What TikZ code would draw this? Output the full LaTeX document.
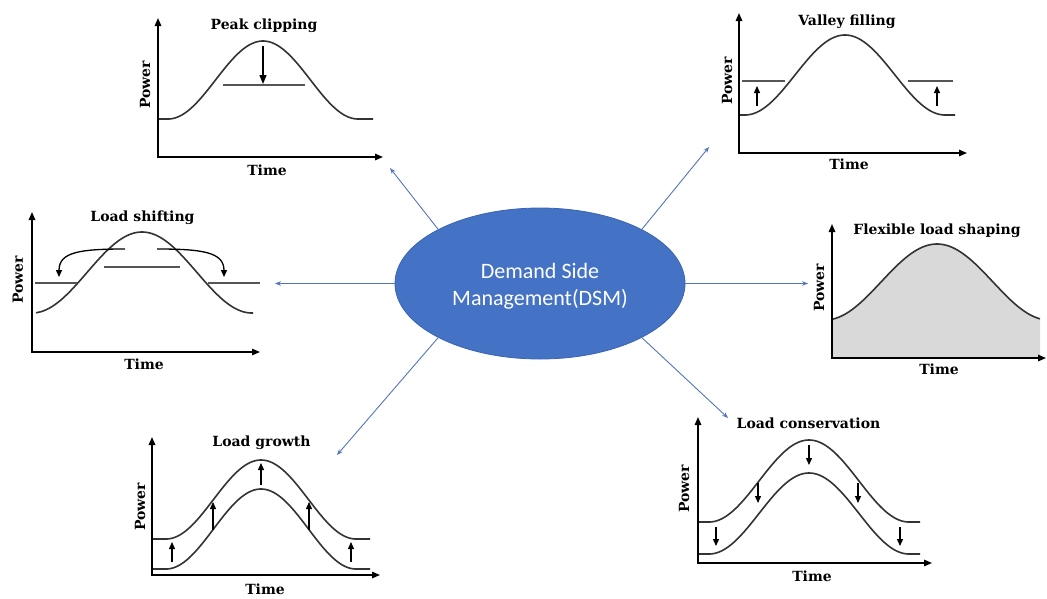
\documentclass[tikz,border=0pt]{standalone}
\usepackage{fontspec}
\setmainfont{DejaVu Serif}
\newfontfamily\carlito{Carlito}
\usetikzlibrary{arrows.meta,shapes.geometric}

\definecolor{dsmblue}{HTML}{4472C4}
\definecolor{dsmedge}{HTML}{3A64B2}
\definecolor{linkblue}{HTML}{5474BA}
\definecolor{curvegrey}{HTML}{333333}
\definecolor{levelgrey}{HTML}{555555}
\definecolor{areagrey}{HTML}{D9D9D9}

% smooth load bump: 1 at the peak xc, falling to 0 at distance w
\pgfmathdeclarefunction{bump}{3}{\pgfmathparse{(1+cos(180*min(1,abs(#1-#2)/#3)))/2}}

\tikzset{
  axes/.style={line width=1.5pt,black,{Triangle[length=8pt,width=6.5pt]}-{Triangle[length=8pt,width=6.5pt]}},
  loadcurve/.style={line width=1.6pt,curvegrey,samples=150},
  level/.style={line width=1.1pt,levelgrey},
  shiftarrow/.style={line width=1.3pt,black,-{Triangle[length=7pt,width=6pt]}},
  link/.style={draw=linkblue,line width=0.9pt,-{Stealth[length=6pt,width=4.5pt]}},
  lbl/.style={font=\fontsize{14}{16}\selectfont\bfseries,anchor=base,inner sep=0pt},
  powerlbl/.style={lbl,rotate=90},
}

\begin{document}
\begin{tikzpicture}[x=1pt,y=-1pt]
\useasboundingbox (0,0) rectangle (1047,598);

% ---------- central node ----------
\node[ellipse,fill=dsmblue,draw=dsmedge,line width=0.8pt,minimum width=290pt,minimum height=151pt,inner sep=0pt] (dsm) at (540,283.5) {};
\node[font=\carlito\fontsize{22}{27}\selectfont,text=white,align=center,anchor=north,inner sep=0pt] (dsmtext) at (540,263) {Demand Side\\Management(DSM)};

% ---------- Peak clipping ----------
\draw[loadcurve] plot[domain=158:373] (\x,{119-78*bump(\x,263,95)});
\draw[level] (223,85) -- (305,85);
\draw[line width=1.3pt,-{Triangle[length=9pt,width=7pt]}] (263,46) -- (263,84);
\draw[axes] (158,18) -- (158,157) -- (383,157);
\node[lbl] (pcTitle) at (264,29) {Peak clipping};
\node[lbl] (pcTime) at (267,175) {Time};
\node[powerlbl] (pcPower) at (150,85) {Power};

% ---------- Valley filling ----------
\draw[loadcurve] plot[domain=739:955] (\x,{115-80*bump(\x,845,100)});
\draw[level] (742,81) -- (785,81);
\draw[level] (908,81) -- (953,81);
\draw[shiftarrow] (757,106) -- (757,86);
\draw[shiftarrow] (937,106) -- (937,86);
\draw[axes] (739,13) -- (739,153) -- (967,153);
\node[lbl] (vfTitle) at (847,25) {Valley filling};
\node[lbl] (vfTime) at (849,169) {Time};
\node[powerlbl] (vfPower) at (732,81) {Power};

% ---------- Load shifting ----------
\draw[loadcurve] plot[domain=36:253] (\x,{313-81*bump(\x,142,110)});
\draw[level] (35,283) -- (77,283);
\draw[level] (208,283) -- (260,283);
\draw[level] (104,267) -- (180,267);
\draw[shiftarrow] (125,249) .. controls (80,249) and (59,252) .. (59,277);
\draw[shiftarrow] (157,249) .. controls (202,249) and (224,252) .. (224,277);
\draw[axes] (32,212) -- (32,352) -- (260,352);
\node[lbl] (lsTitle) at (142.5,221) {Load shifting};
\node[lbl] (lsTime) at (144,369) {Time};
\node[powerlbl] (lsPower) at (23,280) {Power};

% ---------- Flexible load shaping ----------
\fill[areagrey] (832,358) -- plot[domain=832:1040,samples=150] (\x,{320-76*bump(\x,937,112)}) -- (1040,358) -- cycle;
\draw[loadcurve] plot[domain=832:1040] (\x,{320-76*bump(\x,937,112)});
\draw[axes] (832,224) -- (832,358) -- (1046,358);
\node[lbl] (flTitle) at (937,234) {Flexible load shaping};
\node[lbl] (flTime) at (939,374) {Time};
\node[powerlbl] (flPower) at (824,288) {Power};

% ---------- Load growth ----------
\draw[loadcurve] plot[domain=152:370] (\x,{569-80*bump(\x,261,95)});
\draw[loadcurve] plot[domain=152:370] (\x,{539-79*bump(\x,261,95)});
\draw[shiftarrow] (172,562) -- (172,542);
\draw[shiftarrow] (213,530) -- (213,502);
\draw[shiftarrow] (261,485) -- (261,463);
\draw[shiftarrow] (309,530) -- (309,502);
\draw[shiftarrow] (351,562) -- (351,542);
\draw[axes] (152,437) -- (152,575) -- (380,575);
\node[lbl] (lgTitle) at (261.5,446) {Load growth};
\node[lbl] (lgTime) at (265,594) {Time};
\node[powerlbl] (lgPower) at (145,507) {Power};

% ---------- Load conservation ----------
\draw[loadcurve] plot[domain=698:920] (\x,{522-82*bump(\x,809,100)});
\draw[loadcurve] plot[domain=698:920] (\x,{554-81*bump(\x,809,100)});
\draw[shiftarrow] (716,527) -- (716,546);
\draw[shiftarrow] (758,483) -- (758,503);
\draw[shiftarrow] (809,445) -- (809,465);
\draw[shiftarrow] (858,483) -- (858,503);
\draw[shiftarrow] (900,527) -- (900,546);
\draw[axes] (698,417) -- (698,563) -- (932,563);
\node[lbl] (lcTitle) at (808.5,428) {Load conservation};
\node[lbl] (lcTime) at (812,581) {Time};
\node[powerlbl] (lcPower) at (689,489) {Power};

% ---------- links from the central node ----------
\coordinate (pcEnd) at (390,168);
\coordinate (vfEnd) at (709,147);
\coordinate (lsEnd) at (275,283.5);
\coordinate (flEnd) at (808,283.5);
\coordinate (lgEnd) at (337,455);
\coordinate (lcEnd) at (728,418);
\draw[link] (dsm.152) -- (pcEnd);
\draw[link] (dsm.28) -- (vfEnd);
\draw[link] (dsm.west) -- (lsEnd);
\draw[link] (dsm.east) -- (flEnd);
\draw[link] (dsm.208) -- (lgEnd);
\draw[link] (dsm.332) -- (lcEnd);
\end{tikzpicture}
\end{document}
